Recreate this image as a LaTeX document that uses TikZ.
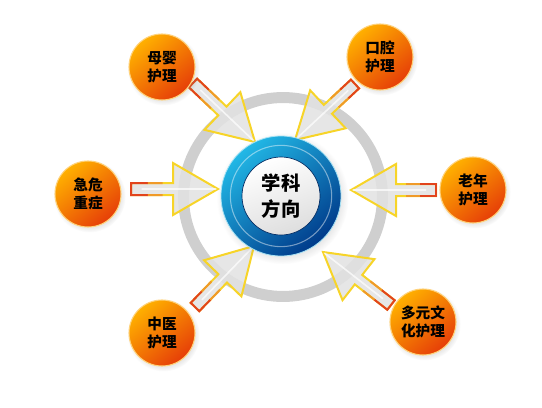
\documentclass[tikz,border=0pt]{standalone}
\usepackage{fontspec}
\newfontfamily\cjk{Noto Sans CJK SC}
\usetikzlibrary{calc,shadows}
\definecolor{ringgray}{HTML}{CFCFCF}
\definecolor{orgA}{HTML}{FFB000}
\definecolor{orgB}{HTML}{E63E08}
\definecolor{orgRim}{HTML}{FFD27A}
\definecolor{blueA}{HTML}{22B8E6}
\definecolor{blueB}{HTML}{003A8A}
\definecolor{arrYel}{HTML}{F7D428}
\definecolor{arrOrg}{HTML}{F09A28}
\definecolor{arrRed}{HTML}{E2441C}
\definecolor{arrFill}{HTML}{E2E2E2}
\tikzset{
  topic/.style={circle, minimum size=49.5pt, inner sep=0pt, align=center,
    top color=orgA, bottom color=orgB, shading angle=40,
    draw=orgRim, line width=0.8pt,
    font=\cjk\bfseries\fontsize{11}{13.5}\selectfont,
    circular drop shadow={opacity=0.18, shadow xshift=1pt, shadow yshift=-1.5pt}},
  hub/.style={circle, minimum size=90pt, inner sep=0pt,
    top color=blueA, bottom color=blueB, shading angle=40,
    draw=blueA!40!white, line width=0.6pt,
    circular drop shadow={opacity=0.2, shadow xshift=1pt, shadow yshift=-1.5pt}},
  hubcore/.style={circle, minimum size=58.5pt, inner sep=0pt, align=center,
    top color=white, bottom color=black!13, shading angle=20,
    draw=blueB!70!black, line width=0.5pt,
    font=\cjk\bfseries\fontsize{14.5}{19}\selectfont},
  arrowbody/.style={fill=arrFill, fill opacity=0.85, draw=arrYel, line width=1.5pt, line join=miter},
  arrowtail/.style={line width=1.5pt, line cap=butt}
}
\newcommand\blkarrow[2]{%
  \coordinate (bb) at ($(#2)!33.75pt!(#1)$);
  \filldraw[arrowbody]
    ($(#1)!4.5pt!90:(#2)$) -- ($(bb)!4.5pt!90:(#2)$) -- ($(bb)!19.5pt!90:(#2)$) --
    (#2) -- ($(bb)!19.5pt!-90:(#2)$) -- ($(bb)!4.5pt!-90:(#2)$) --
    ($(#1)!4.5pt!-90:(#2)$) -- cycle;
  \draw[white, line width=1.2pt, opacity=0.7]
    ($(#1)!0.25!(bb)$) -- ($(#1)!0.98!(#2)$);
  \draw[arrowtail, arrRed]
    ($($(#1)!0.4!(bb)$)!4.5pt!90:(#2)$) -- ($(#1)!4.5pt!90:(#2)$) --
    ($(#1)!4.5pt!-90:(#2)$) -- ($($(#1)!0.4!(bb)$)!4.5pt!-90:(#2)$);
  \draw[arrowtail, arrOrg]
    ($($(#1)!0.4!(bb)$)!4.5pt!90:(#2)$) -- ($($(#1)!0.75!(bb)$)!4.5pt!90:(#2)$);
  \draw[arrowtail, arrOrg]
    ($($(#1)!0.4!(bb)$)!4.5pt!-90:(#2)$) -- ($($(#1)!0.75!(bb)$)!4.5pt!-90:(#2)$);
}
\begin{document}
\begin{tikzpicture}[x=0.75pt, y=-0.75pt]
\useasboundingbox (0,0) rectangle (542,407);
% background ring
\coordinate (ringc) at (283,197);
\draw[ringgray, line width=8.25pt] (ringc) circle (74.6pt);
% arrow ends
\coordinate (t1) at (193,83);  \coordinate (p1) at (255,142);
\coordinate (t2) at (355,84);  \coordinate (p2) at (295,140);
\coordinate (t3) at (131,189); \coordinate (p3) at (218,189);
\coordinate (t4) at (436,190); \coordinate (p4) at (351,190);
\coordinate (t5) at (195,307); \coordinate (p5) at (254,246);
\coordinate (t6) at (391,305); \coordinate (p6) at (323,252);
\blkarrow{t1}{p1}
\blkarrow{t2}{p2}
\blkarrow{t3}{p3}
\blkarrow{t4}{p4}
\blkarrow{t5}{p5}
\blkarrow{t6}{p6}
% hub
\node[hub] (xkring) at (281,196) {};
\draw[white, opacity=0.45, line width=0.8pt] (xkring.center) circle (38pt);
\node[hubcore] (xk) at (281,196) {学科\\方向};
% topics
\node[topic] (mb) at (162,67)  {母婴\\护理};
\node[topic] (kq) at (380,57)  {口腔\\护理};
\node[topic] (jw) at (88,194)  {急危\\重症};
\node[topic] (ln) at (473,190) {老年\\护理};
\node[topic] (zy) at (162,333) {中医\\护理};
\node[topic] (dy) at (423,322) {多元文\\化护理};
\end{tikzpicture}
\end{document}
